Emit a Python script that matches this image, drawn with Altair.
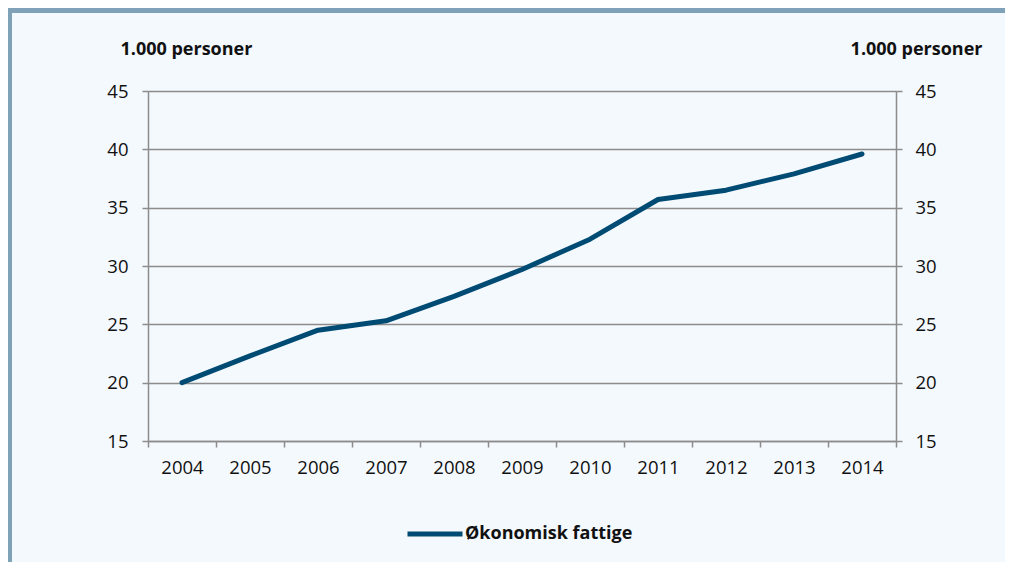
import altair as alt
import pandas as pd

years = ["2004", "2005", "2006", "2007", "2008", "2009", "2010", "2011", "2012", "2013", "2014"]
values = [20.0, 22.3, 24.5, 25.3, 27.4, 29.7, 32.3, 35.7, 36.5, 37.9, 39.6]
series_name = "Økonomisk fattige"
y_ticks = [15, 20, 25, 30, 35, 40, 45]
unit_label = "1.000 personer"

df = pd.DataFrame({"year": years, "value": values, "serie": [series_name] * len(years)})

BG = "#F4F9FD"
GRID = "#8C8C8C"
LINE = "#004B73"
FONT = "Open Sans"
LBL = 18.5
TTL = 18

x_enc = alt.X(
    "year:O",
    title=None,
    bandPosition=0.5,
    scale=alt.Scale(type="band", paddingInner=0, paddingOuter=0),
    axis=alt.Axis(
        labelAngle=0, tickBand="extent", tickSize=6, tickColor=GRID, tickWidth=1.5,
        domainColor=GRID, domainWidth=1.5, labelPadding=11, grid=False,
        labelFont=FONT, labelFontSize=LBL, labelColor="#111111",
    ),
)

yscale = alt.Scale(domain=[15, 45], nice=False, zero=False)

base = alt.Chart(df)

left = base.mark_line(strokeWidth=5, strokeCap="round", strokeJoin="round").encode(
    x=x_enc,
    y=alt.Y(
        "value:Q", scale=yscale,
        axis=alt.Axis(
            orient="left", values=y_ticks, grid=True, gridColor=GRID, gridWidth=1.5,
            tickSize=6, tickColor=GRID, tickWidth=1.5, domainColor=GRID, domainWidth=1.5,
            labelPadding=14, labelFont=FONT, labelFontSize=LBL, labelColor="#111111",
            title=unit_label, titleAngle=0, titleAlign="left", titleBaseline="middle",
            titleX=-28, titleY=-42, titleFont=FONT, titleFontSize=TTL, titleFontWeight="bold",
            titleColor="#111111",
        ),
    ),
    color=alt.Color(
        "serie:N",
        scale=alt.Scale(domain=[series_name], range=[LINE]),
        legend=alt.Legend(
            title=None, orient="none", legendX=257, legendY=413, symbolType="stroke",
            symbolSize=3025, symbolStrokeWidth=5, labelFont=FONT, labelFontSize=TTL,
            labelFontWeight="bold", labelColor="#111111", labelOffset=0, padding=0,
            labelLimit=400,
        ),
    ),
)

right = base.mark_line(opacity=0).encode(
    x=x_enc,
    y=alt.Y(
        "value:Q", scale=yscale,
        axis=alt.Axis(
            orient="right", values=y_ticks, grid=False,
            tickSize=6, tickColor=GRID, tickWidth=1.5, domainColor=GRID, domainWidth=1.5,
            labelPadding=13, labelFont=FONT, labelFontSize=LBL, labelColor="#111111",
            title=unit_label, titleAngle=0, titleAlign="right", titleBaseline="middle",
            titleX=86, titleY=-42, titleFont=FONT, titleFontSize=TTL, titleFontWeight="bold",
            titleColor="#111111",
        ),
    ),
)

band = alt.Chart(pd.DataFrame({"k": [0]})).mark_rect(color="#7FA2B9").encode(
    x=alt.value(-140), x2=alt.value(857), y=alt.value(-83), y2=alt.value(-78)
)
border = alt.Chart(pd.DataFrame({"k": [0]})).mark_rect(color="#7FA2B9").encode(
    x=alt.value(-140), x2=alt.value(-136), y=alt.value(-83), y2=alt.value(471)
)

chart = (
    alt.layer(band, border, left, right)
    .resolve_scale(y="independent")
    .properties(
        width=748, height=350,
        autosize=alt.AutoSizeParams(type="none"),
        padding={"left": 140, "top": 83, "right": 109, "bottom": 121},
        background=BG,
    )
    .configure_view(stroke=None)
)

chart.save("out.html", embed_options={"renderer": "svg", "actions": False})
